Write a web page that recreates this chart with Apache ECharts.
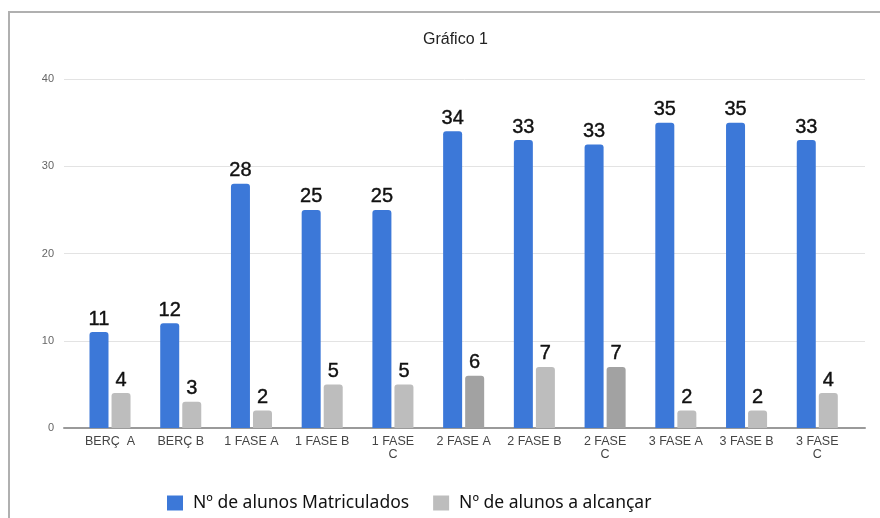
<!DOCTYPE html>
<html>
<head>
<meta charset="utf-8">
<script src="https://cdn.jsdelivr.net/npm/echarts@6/dist/echarts.min.js"></script>
<style>
  html, body { margin: 0; padding: 0; background: #fff; }
  #frame { position: absolute; left: 8px; top: 11px; width: 872px; height: 507px;
           border-left: 2px solid #b0b0b0; border-top: 2px solid #b0b0b0; box-sizing: border-box; }
  #chart { position: absolute; left: 0; top: 0; width: 880px; height: 518px; }
</style>
</head>
<body>
<div id="frame"></div>
<div id="chart"></div>
<script>
const categories = ["BERÇ  A", "BERÇ B", "1 FASE A", "1 FASE B", "1 FASE C", "2 FASE A", "2 FASE B", "2 FASE C", "3 FASE A", "3 FASE B", "3 FASE C"];
const matriculados = [11, 12, 28, 25, 25, 34, 33, 32.5, 35, 35, 33];
const alcancar = [4, 3, 2, 5, 5, 6, 7, 7, 2, 2, 4];
const yTicks = [0, 10, 20, 30, 40];
const seriesNames = ["Nº de alunos Matriculados", "Nº de alunos a alcançar"];
const titleText = "Gráfico 1";

const blue = "#3c78d8";
const grayLight = "#bdbdbd";
const grayDark = "#a2a2a2";
const darkGrayIdx = [5, 7];

const chart = echarts.init(document.getElementById('chart'), null, { renderer: 'canvas' });
const labelStyle = {
  show: true, position: 'top', distance: 3,
  fontFamily: 'Liberation Sans, Arial, sans-serif', fontSize: 20, color: '#111',
  textBorderColor: '#111', textBorderWidth: 0.4,
  formatter: p => String(Math.round(p.value))
};
chart.setOption({
  animation: false,
  backgroundColor: 'transparent',
  title: {
    text: titleText, left: 418, top: 27,
    textStyle: { fontFamily: 'Liberation Sans, Arial, sans-serif', fontSize: 16, fontWeight: 'normal', color: '#222' }
  },
  legend: {
    left: 162, top: 489, itemWidth: 16, itemHeight: 15, itemGap: 24, icon: 'rect',
    textStyle: { fontFamily: 'Noto Sans, sans-serif', fontSize: 17.5, color: '#111', padding: [0, 0, 0, 5] },
    data: seriesNames
  },
  grid: [
    { left: 64, right: 15, top: 79, bottom: 90 },
    { left: 74.65, right: 27.35, top: 79, bottom: 90 }
  ],
  xAxis: [
    { type: 'value', gridIndex: 0, min: 0, max: 1, position: 'bottom',
      axisLine: { show: true, onZero: false, lineStyle: { color: '#9a9a9a', width: 2 } },
      axisTick: { show: false }, axisLabel: { show: false }, splitLine: { show: false } },
    { type: 'category', gridIndex: 1, data: categories,
      axisLine: { show: false }, axisTick: { show: false },
      axisLabel: { interval: 0, margin: 7, fontFamily: 'Liberation Sans, Arial, sans-serif', fontSize: 12.5,
        color: '#444', lineHeight: 13,
        formatter: v => v.replace(/FASE C$/, 'FASE\nC') } }
  ],
  yAxis: [
    { type: 'value', gridIndex: 0, min: yTicks[0], max: yTicks[yTicks.length - 1], interval: 10,
      axisLine: { show: false }, axisTick: { show: false },
      axisLabel: { margin: 10, fontFamily: 'Liberation Sans, Arial, sans-serif', fontSize: 11, color: '#666' },
      splitLine: { lineStyle: { color: '#e3e3e3', width: 1 } } },
    { type: 'value', gridIndex: 1, min: yTicks[0], max: yTicks[yTicks.length - 1], show: false,
      splitLine: { show: false } }
  ],
  series: [
    { name: seriesNames[0], type: 'bar', xAxisIndex: 1, yAxisIndex: 1, data: matriculados,
      barWidth: 19, barGap: '16%', itemStyle: { color: blue, borderRadius: [3, 3, 0, 0] },
      label: labelStyle },
    { name: seriesNames[1], type: 'bar', xAxisIndex: 1, yAxisIndex: 1,
      data: alcancar.map((v, i) => ({ value: v, itemStyle: { color: darkGrayIdx.includes(i) ? grayDark : grayLight } })),
      barWidth: 19, itemStyle: { color: grayLight, borderRadius: [3, 3, 0, 0] },
      label: labelStyle }
  ]
});
</script>
</body>
</html>
